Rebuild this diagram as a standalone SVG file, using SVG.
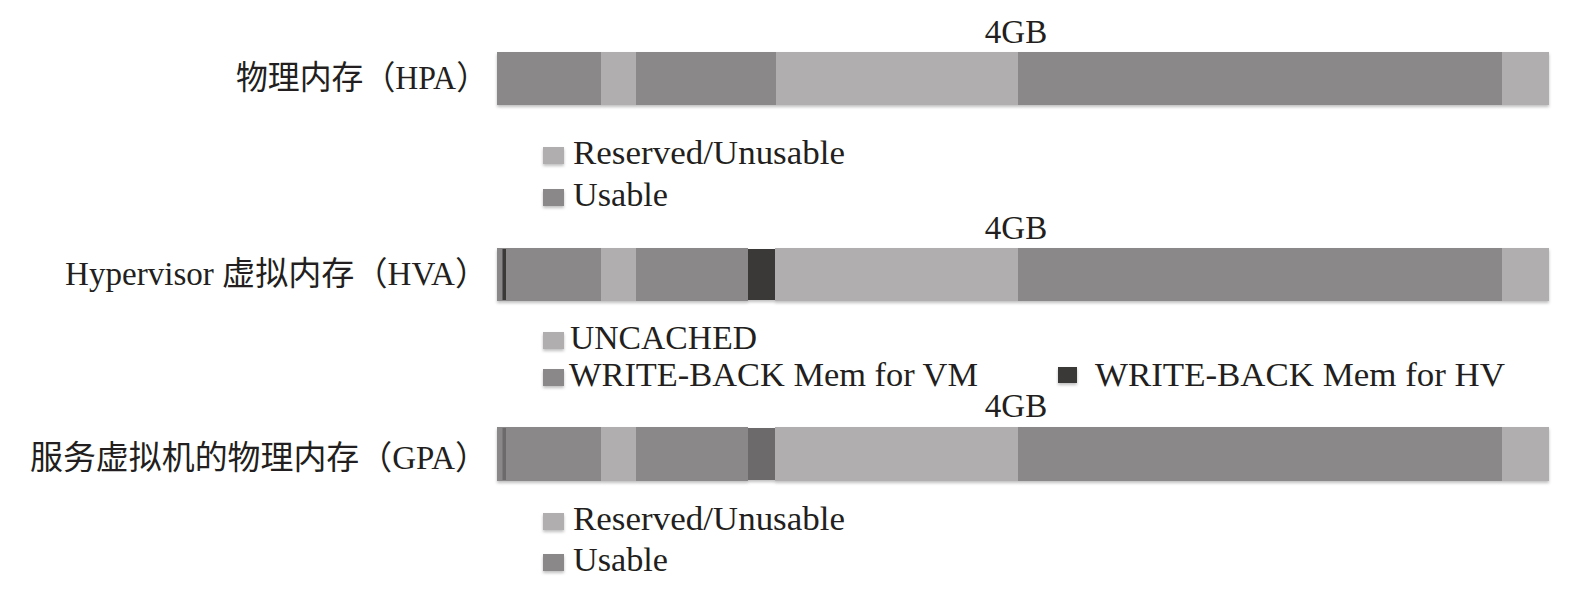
<svg xmlns="http://www.w3.org/2000/svg" width="1569" height="589" viewBox="0 0 1569 589">
<style>
text{font-family:"Liberation Serif","Noto Sans CJK SC",serif;font-size:33px;fill:#231f20}
.lbl{text-anchor:end}
.cap{text-anchor:middle}
.u{fill:#8a8889}
.r{fill:#b0aeaf}
.hv{fill:#3a3738}
.gv{fill:#6c6a6b}
.sw{filter:url(#sh)}
</style>
<defs>
<filter id="sh" x="-10%" y="-20%" width="120%" height="160%">
<feDropShadow dx="0" dy="2" stdDeviation="1.5" flood-color="#000" flood-opacity="0.25"/>
</filter>
</defs>
<g id="hpa">
<text class="lbl" x="488" y="89" textLength="252" lengthAdjust="spacingAndGlyphs">物理内存（HPA）</text>
<text class="cap" x="1016" y="43">4GB</text>
<g class="sw">
<rect class="u" x="497" y="52" width="104" height="53"/>
<rect class="r" x="601" y="52" width="35" height="53"/>
<rect class="u" x="636" y="52" width="140" height="53"/>
<rect class="r" x="776" y="52" width="242" height="53"/>
<rect class="u" x="1018" y="52" width="484" height="53"/>
<rect class="r" x="1502" y="52" width="47" height="53"/>
</g>
</g>
<g id="legend-hpa">
<rect class="r sw" x="543" y="147" width="21" height="17"/>
<text x="573" y="164" textLength="272" lengthAdjust="spacingAndGlyphs">Reserved/Unusable</text>
<rect class="u sw" x="543" y="189" width="21" height="17"/>
<text x="573" y="206" textLength="95" lengthAdjust="spacingAndGlyphs">Usable</text>
</g>
<g id="hva">
<text class="lbl" x="488" y="285" textLength="423" lengthAdjust="spacingAndGlyphs">Hypervisor 虚拟内存（HVA）</text>
<text class="cap" x="1016" y="239">4GB</text>
<g class="sw">
<rect class="u" x="497" y="248" width="104" height="53"/>
<rect class="r" x="601" y="248" width="35" height="53"/>
<rect class="u" x="636" y="248" width="112" height="53"/>
<rect class="hv" x="748" y="249" width="27" height="51"/>
<rect class="r" x="775" y="248" width="243" height="53"/>
<rect class="u" x="1018" y="248" width="484" height="53"/>
<rect class="r" x="1502" y="248" width="47" height="53"/>
<rect class="hv" x="502.5" y="249" width="3.5" height="51"/>
</g>
</g>
<g id="legend-hva">
<rect class="r sw" x="543" y="332" width="21" height="17"/>
<text x="570" y="349" textLength="187" lengthAdjust="spacingAndGlyphs">UNCACHED</text>
<rect class="u sw" x="543" y="369" width="21" height="17"/>
<text x="569" y="386" textLength="409" lengthAdjust="spacingAndGlyphs">WRITE-BACK Mem for VM</text>
<rect class="hv sw" x="1058" y="367" width="19" height="16"/>
<text x="1095" y="386" textLength="410" lengthAdjust="spacingAndGlyphs">WRITE-BACK Mem for HV</text>
</g>
<g id="gpa">
<text class="lbl" x="488" y="469" textLength="458" lengthAdjust="spacingAndGlyphs">服务虚拟机的物理内存（GPA）</text>
<text class="cap" x="1016" y="417">4GB</text>
<g class="sw">
<rect class="u" x="497" y="427" width="104" height="54"/>
<rect class="r" x="601" y="427" width="35" height="54"/>
<rect class="u" x="636" y="427" width="112" height="54"/>
<rect class="gv" x="748" y="428" width="27" height="52"/>
<rect class="r" x="775" y="427" width="243" height="54"/>
<rect class="u" x="1018" y="427" width="484" height="54"/>
<rect class="r" x="1502" y="427" width="47" height="54"/>
<rect class="gv" x="502.5" y="428" width="3.5" height="52"/>
</g>
</g>
<g id="legend-gpa">
<rect class="r sw" x="543" y="513" width="21" height="17"/>
<text x="573" y="530" textLength="272" lengthAdjust="spacingAndGlyphs">Reserved/Unusable</text>
<rect class="u sw" x="543" y="554" width="21" height="17"/>
<text x="573" y="571" textLength="95" lengthAdjust="spacingAndGlyphs">Usable</text>
</g>
<g id="connectors"/>
</svg>
